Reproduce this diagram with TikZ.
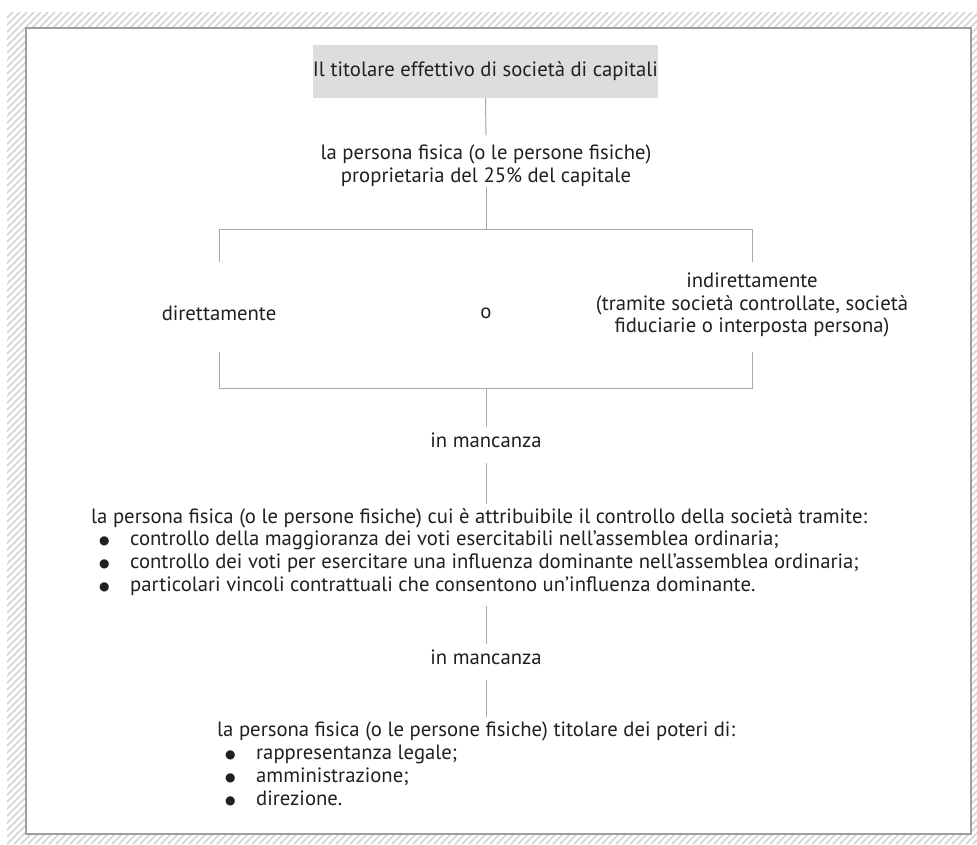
\documentclass[tikz,border=0pt]{standalone}
\usepackage{fontspec}
\setmainfont{PT Sans}
\newfontfamily\symfont{DejaVu Sans}
\usepackage{xcolor}
\definecolor{ink}{HTML}{231F20}
\definecolor{rulegray}{HTML}{A7A9AC}
\definecolor{framegray}{HTML}{9D9FA2}
\definecolor{hatchgray}{HTML}{D4D4D4}
\definecolor{titlegray}{HTML}{DCDDDE}
\usetikzlibrary{positioning}

\newcommand{\bitem}[1]{\makebox[39pt][l]{\hspace*{8pt}\raisebox{1pt}{\symfont\fontsize{12}{0}\selectfont ●}}#1}

\begin{document}
\begin{tikzpicture}[x=1pt,y=-1pt,
    txt/.style={text=ink,inner sep=0pt,align=center,font=\fontsize{20.7}{22.7}\selectfont},
    miss/.style={txt,inner ysep=5pt,text height=15pt,text depth=11pt,anchor=base},
    conn/.style={draw=rulegray,line width=1pt}]

  \useasboundingbox (0,0) rectangle (977,844);

  % hatched frame
  \begin{scope}
    \clip (7,12) rectangle (977,844);
    \foreach \k in {-840,-833,...,980}
      \draw[hatchgray,line width=1.6pt] (\k,844) -- (\k+832,12);
  \end{scope}
  \draw[framegray,line width=1.5pt,fill=white] (26,28) rectangle (971,834);

  % title
  \node[txt,fill=titlegray,minimum width=343,minimum height=53] (head) at (485.5,71.5) {Il titolare effettivo di società di capitali};

  \node[txt] (own) at (486,166) {la persona fisica (o le persone fisiche)\\proprietaria del 25\% del capitale};
  \draw[conn,shorten >=10pt] (head) -- (own);

  % direttamente o indirettamente
  \coordinate (fork) at (486,229);
  \coordinate (merge) at (486,388);
  \coordinate (forkend) at (0,262);
  \coordinate (mergeend) at (0,352);
  \node[txt] (dir) at (219,313) {direttamente};
  \node[txt] (alt) at (486,313) {o};
  \node[txt] (ind) at (752,305) {indirettamente\\(tramite società controllate, società\\fiduciarie o interposta persona)};
  \draw[conn] (own) -- (fork);
  \draw[conn] (dir |- forkend) -- (dir |- fork) -- (ind |- fork) -- (ind |- forkend);
  \draw[conn] (dir |- mergeend) -- (dir |- merge) -- (ind |- merge) -- (ind |- mergeend);

  % controllo
  \node[miss] (miss1) at (486,447) {in mancanza};
  \draw[conn] (merge) -- (miss1);
  \node[txt,align=left,anchor=north west] (ctrl) at (91,508) {la persona fisica (o le persone fisiche) cui è attribuibile il controllo della società tramite:\\
    \bitem{controllo della maggioranza dei voti esercitabili nell’assemblea ordinaria;}\\
    \bitem{controllo dei voti per esercitare una influenza dominante nell’assemblea ordinaria;}\\
    \bitem{particolari vincoli contrattuali che consentono un’influenza dominante.}};
  \draw[conn,shorten >=4pt] (miss1) -- (miss1 |- ctrl.north);

  % poteri
  \node[miss] (miss2) at (486,664) {in mancanza};
  \draw[conn,shorten <=10pt] (miss2 |- ctrl.south) -- (miss2);
  \node[txt,align=left,anchor=north west] (pow) at (217,722) {la persona fisica (o le persone fisiche) titolare dei poteri di:\\
    \bitem{rappresentanza legale;}\\
    \bitem{amministrazione;}\\
    \bitem{direzione.}};
  \draw[conn,shorten >=5pt] (miss2) -- (miss2 |- pow.north);

\end{tikzpicture}
\end{document}
